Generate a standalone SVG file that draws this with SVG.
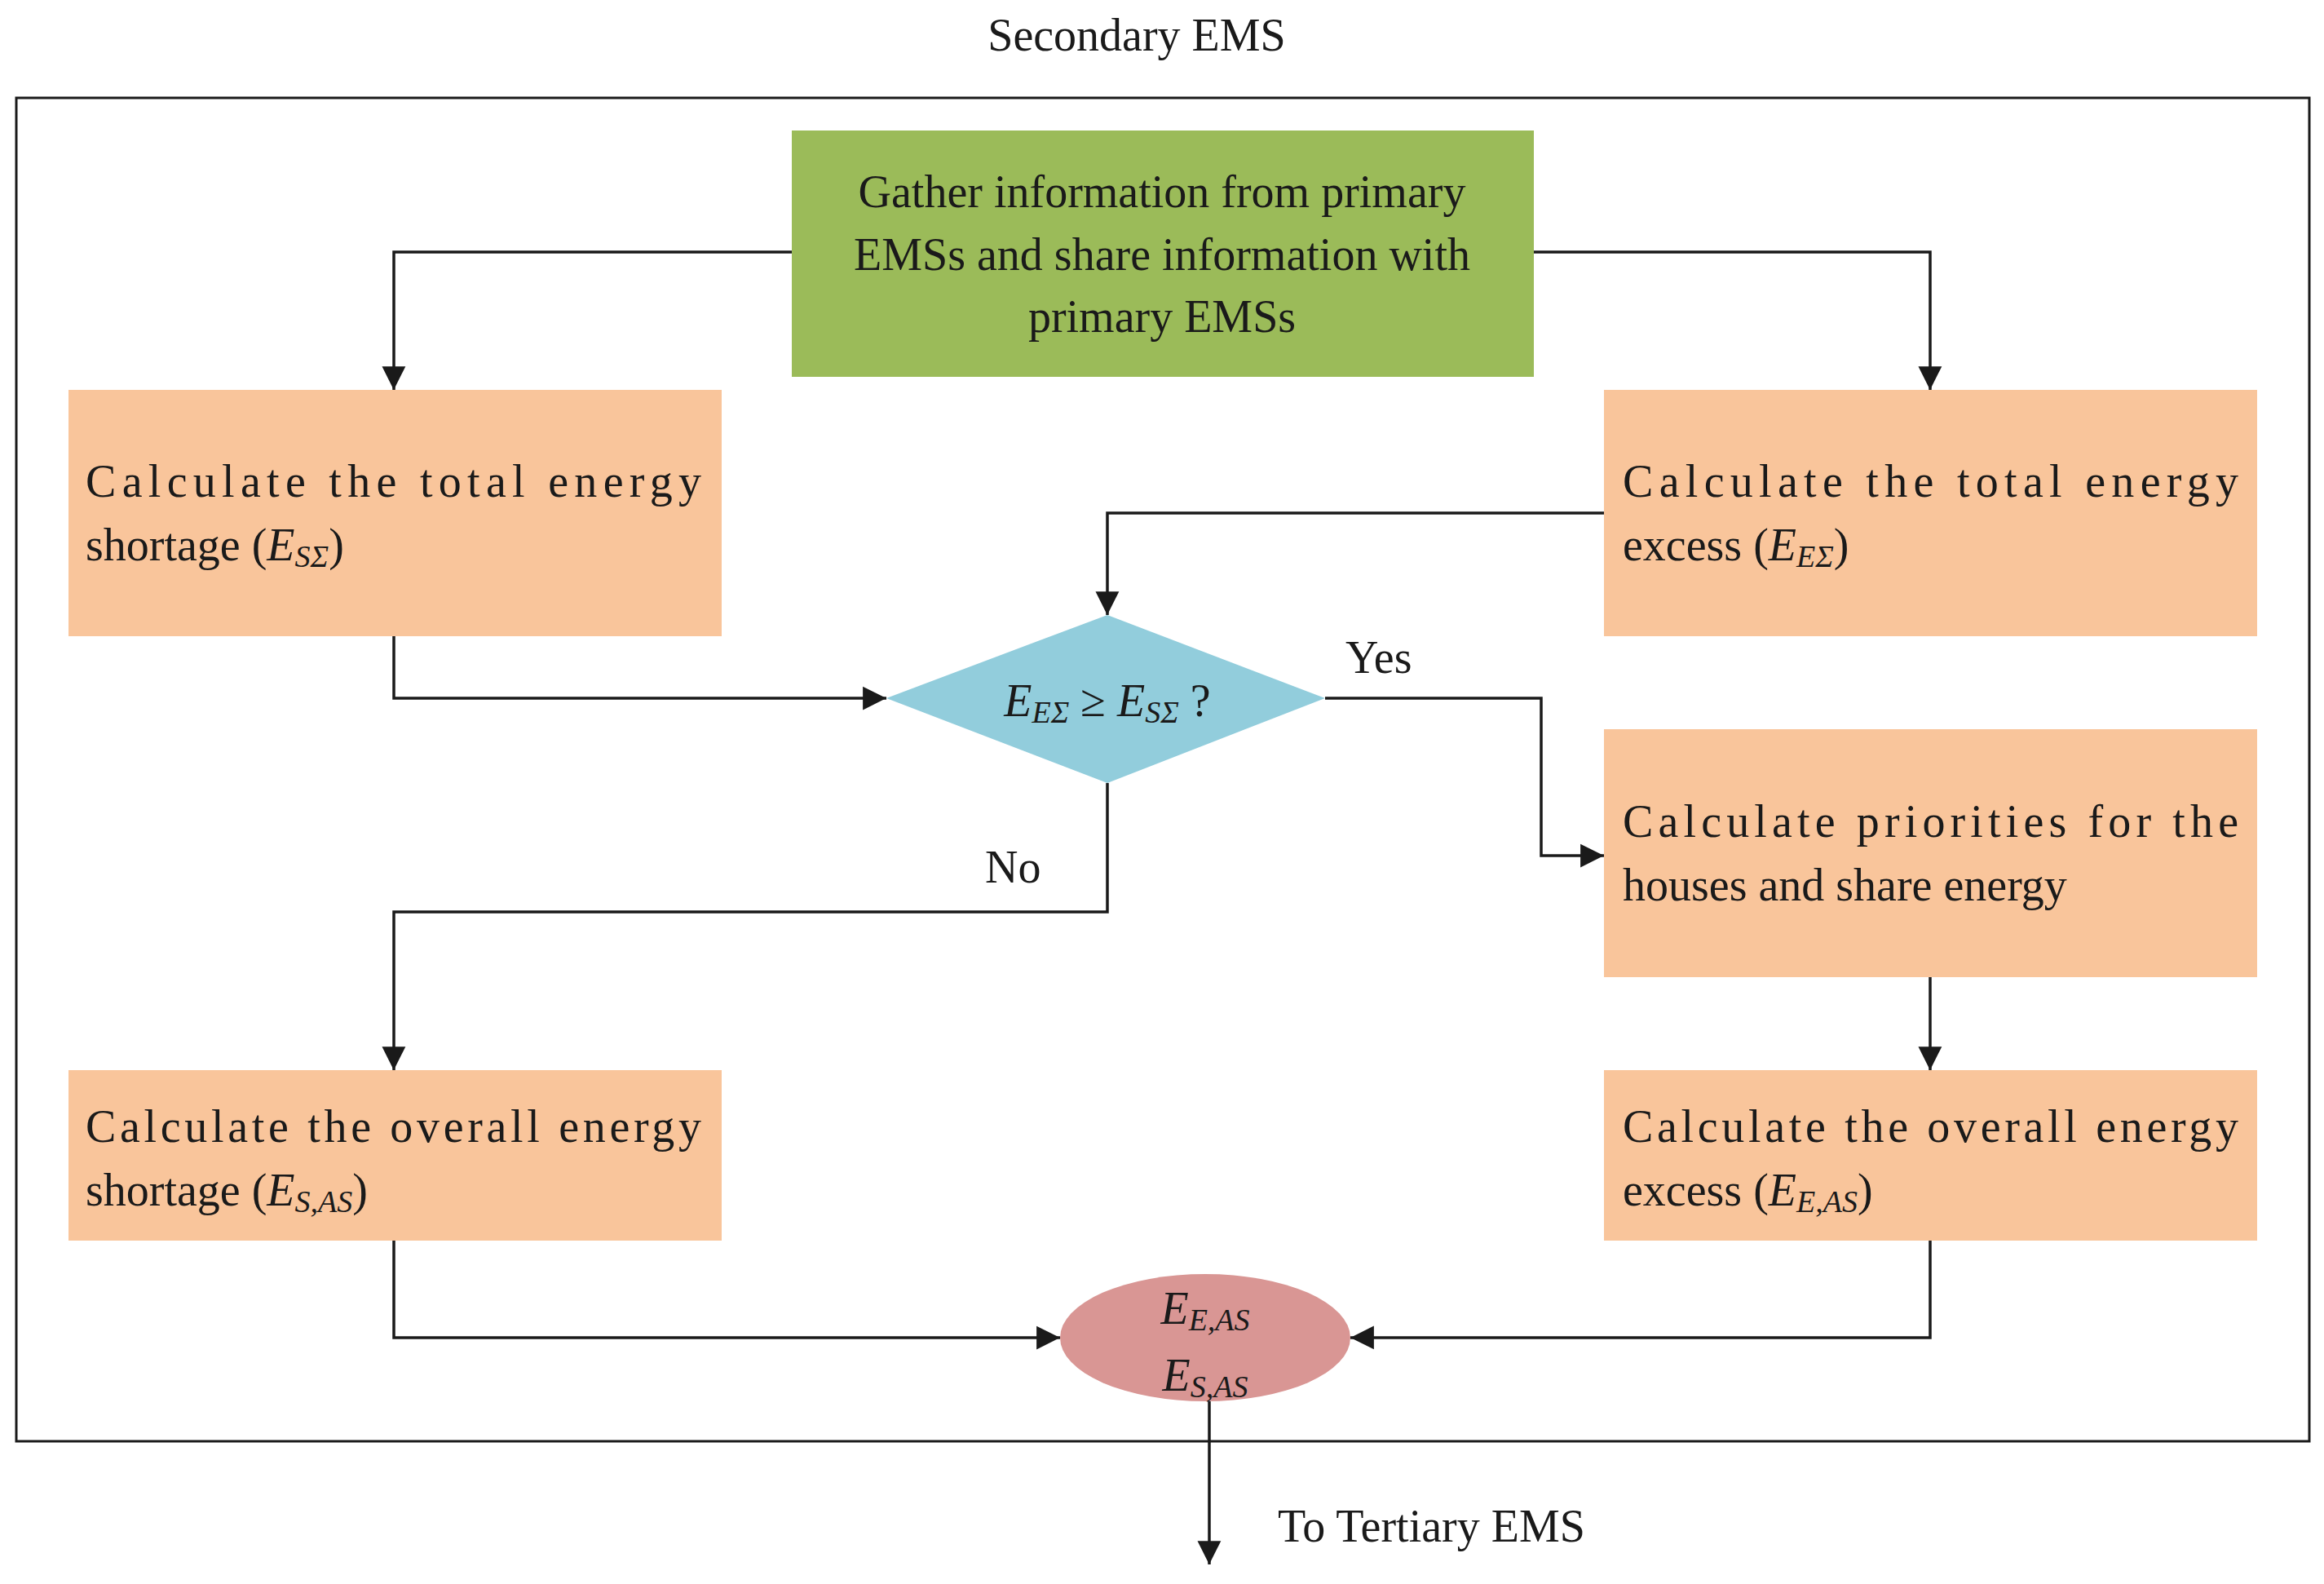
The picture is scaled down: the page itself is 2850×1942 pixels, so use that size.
<svg xmlns="http://www.w3.org/2000/svg" width="2850" height="1942" viewBox="0 0 2850 1942">
<style>
text{font-family:"Liberation Serif","Times New Roman",serif;font-size:56px;fill:#1a1a1a}
.i{font-style:italic}
.s{font-size:38px;font-style:italic}
.or{fill:#F9C59B}
.ln{fill:none;stroke:#1a1a1a;stroke-width:3.5}
</style>
<defs>
<marker id="a" viewBox="0 0 10 10" refX="10" refY="5" markerWidth="9" markerHeight="9" markerUnits="userSpaceOnUse" orient="auto" style="overflow:visible">
<path d="M0,0 L10,5 L0,10 z" fill="#1a1a1a" transform="scale(3.2) translate(-6.9,-3.4)"/>
</marker>
</defs>
<rect width="2850" height="1942" fill="#fff"/>
<text x="1394" y="62" text-anchor="middle">Secondary EMS</text>
<rect x="20" y="120" width="2812" height="1647" fill="none" stroke="#1a1a1a" stroke-width="3"/>
<g id="gather"><rect x="971" y="160" width="910" height="302" fill="#9BBB59"/>
<text x="1425" y="254" text-anchor="middle">Gather information from primary</text>
<text x="1425" y="331" text-anchor="middle">EMSs and share information with</text>
<text x="1425" y="407" text-anchor="middle">primary EMSs</text></g>
<g id="shortage"><rect class="or" x="84" y="478" width="801" height="302"/>
<text x="105" y="609" textLength="755" lengthAdjust="spacing">Calculate the total energy</text>
<text x="105" y="687">shortage (<tspan class="i">E</tspan><tspan class="s" dy="8">SΣ</tspan><tspan dy="-8">)</tspan></text></g>
<g id="excess"><rect class="or" x="1967" y="478" width="801" height="302"/>
<text x="1990" y="609" textLength="755" lengthAdjust="spacing">Calculate the total energy</text>
<text x="1990" y="687">excess (<tspan class="i">E</tspan><tspan class="s" dy="8">EΣ</tspan><tspan dy="-8">)</tspan></text></g>
<g id="decision"><polygon points="1087,856 1358,754 1625,856 1358,960" fill="#92CDDC"/>
<text x="1358" y="878" text-anchor="middle"><tspan class="i">E</tspan><tspan class="s" dy="8">EΣ</tspan><tspan dy="-8"> ≥ </tspan><tspan class="i">E</tspan><tspan class="s" dy="8">SΣ</tspan><tspan dy="-8"> ?</tspan></text></g>
<g id="priorities"><rect class="or" x="1967" y="894" width="801" height="304"/>
<text x="1990" y="1026" textLength="755" lengthAdjust="spacing">Calculate priorities for the</text>
<text x="1990" y="1104">houses and share energy</text></g>
<g id="overallShort"><rect class="or" x="84" y="1312" width="801" height="209"/>
<text x="105" y="1400" textLength="755" lengthAdjust="spacing">Calculate the overall energy</text>
<text x="105" y="1478">shortage (<tspan class="i">E</tspan><tspan class="s" dy="8">S,AS</tspan><tspan dy="-8">)</tspan></text></g>
<g id="overallExcess"><rect class="or" x="1967" y="1312" width="801" height="209"/>
<text x="1990" y="1400" textLength="755" lengthAdjust="spacing">Calculate the overall energy</text>
<text x="1990" y="1478">excess (<tspan class="i">E</tspan><tspan class="s" dy="8">E,AS</tspan><tspan dy="-8">)</tspan></text></g>
<g id="result"><ellipse cx="1478" cy="1640" rx="178" ry="78" fill="#D99694"/>
<text x="1478" y="1623" text-anchor="middle"><tspan class="i">E</tspan><tspan class="s" dy="8">E,AS</tspan></text>
<text x="1478" y="1705" text-anchor="middle"><tspan class="i">E</tspan><tspan class="s" dy="8">S,AS</tspan></text></g>
<g id="connectors">
<polyline class="ln" marker-end="url(#a)" points="971,309 483,309 483,478"/>
<polyline class="ln" marker-end="url(#a)" points="1881,309 2367,309 2367,478"/>
<polyline class="ln" marker-end="url(#a)" points="483,780 483,856 1087,856"/>
<polyline class="ln" marker-end="url(#a)" points="1967,629 1358,629 1358,754"/>
<polyline class="ln" marker-end="url(#a)" points="1625,856 1890,856 1890,1049 1967,1049"/>
<polyline class="ln" marker-end="url(#a)" points="1358,960 1358,1118 483,1118 483,1312"/>
<polyline class="ln" marker-end="url(#a)" points="2367,1198 2367,1312"/>
<polyline class="ln" marker-end="url(#a)" points="483,1521 483,1640 1300,1640"/>
<polyline class="ln" marker-end="url(#a)" points="2367,1521 2367,1640 1656,1640"/>
<polyline class="ln" marker-end="url(#a)" points="1483,1718 1483,1918"/>
<text x="1650" y="825">Yes</text>
<text x="1208" y="1082">No</text>
<text x="1567" y="1890">To Tertiary EMS</text>
</g>
</svg>
